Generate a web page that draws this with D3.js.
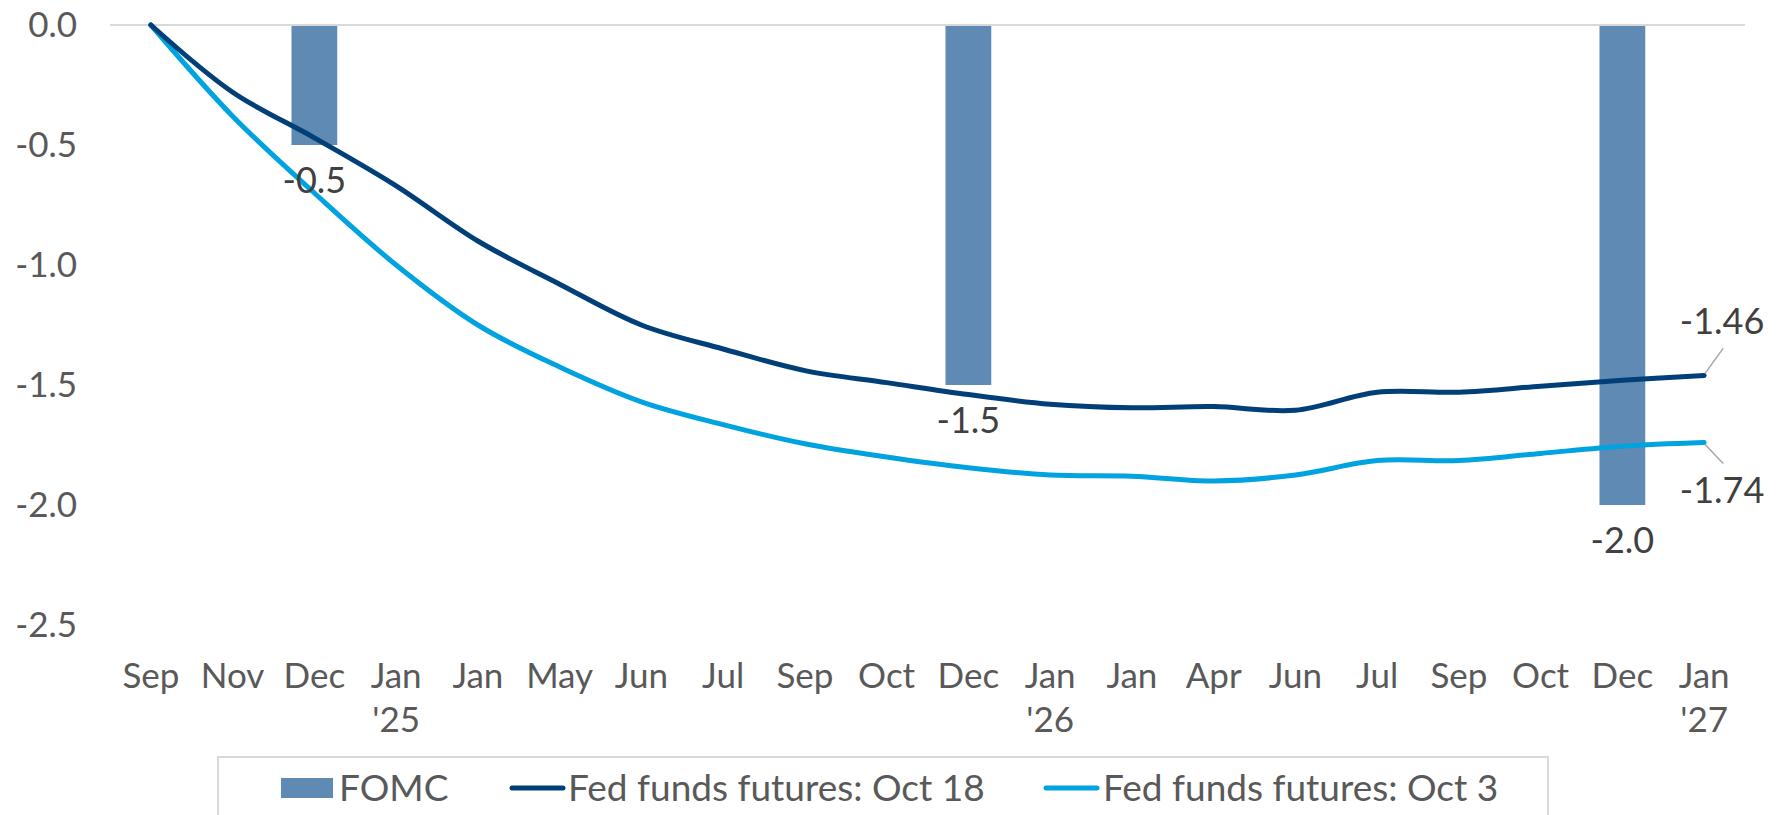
<!DOCTYPE html>
<html lang="en">
<head>
<meta charset="utf-8">
<title>FOMC cuts vs fed funds futures</title>
<script src="https://cdn.jsdelivr.net/npm/d3@7"></script>
<style>
  body { margin: 0; background: #fff; }
  svg text { font-family: Lato, "Open Sans", sans-serif; }
</style>
</head>
<body>
<script>
// categories (months), second line holds the year where shown
const months = ["Sep", "Nov", "Dec", "Jan", "Jan", "May", "Jun", "Jul", "Sep", "Oct",
                "Dec", "Jan", "Jan", "Apr", "Jun", "Jul", "Sep", "Oct", "Dec", "Jan"];
const years  = ["", "", "", "'25", "", "", "", "", "", "",
                "", "'26", "", "", "", "", "", "", "", "'27"];

// FOMC dots: only three meetings carry a bar
const fomc = [null, null, -0.5, null, null, null, null, null, null, null,
              -1.5, null, null, null, null, null, null, null, -2.0, null];

const futuresOct18 = [0, -0.28, -0.47, -0.67, -0.90, -1.08, -1.25, -1.35, -1.44, -1.49,
                      -1.54, -1.58, -1.595, -1.59, -1.605, -1.53, -1.53, -1.505, -1.48, -1.46];
const futuresOct3  = [0, -0.38, -0.70, -1.00, -1.25, -1.425, -1.57, -1.665, -1.745, -1.80,
                      -1.845, -1.875, -1.88, -1.90, -1.875, -1.815, -1.815, -1.785, -1.755, -1.74];

const yTicks = [0, -0.5, -1.0, -1.5, -2.0, -2.5];

const width = 1783, height = 815;
const mLeft = 110, mRight = 1745, mTop = 25, mBottom = 625;

// plain hyphen for negatives, like the original
const loc = d3.formatLocale({decimal: ".", thousands: ",", grouping: [3], currency: ["$", ""], minus: "-"});
const f1 = loc.format(".1f"), f2 = loc.format(".2f");

const svg = d3.select("body").append("svg")
    .attr("width", width)
    .attr("height", height);

const x = d3.scaleBand()
    .domain(d3.range(months.length))
    .range([mLeft, mRight])
    .paddingInner(0.44)
    .paddingOuter(0.22);

const y = d3.scaleLinear()
    .domain([-2.5, 0])
    .range([mBottom, mTop]);

const cx = i => x(i) + x.bandwidth() / 2;

// zero line
svg.append("line")
    .attr("x1", mLeft).attr("x2", mRight)
    .attr("y1", y(0)).attr("y2", y(0))
    .attr("stroke", "#d9d9d9")
    .attr("stroke-width", 2);

// y axis
const yAxis = svg.append("g")
    .attr("transform", "translate(" + mLeft + ",0)")
    .call(d3.axisLeft(y).tickValues(yTicks).tickSize(0).tickPadding(33).tickFormat(f1));
yAxis.select(".domain").remove();
yAxis.selectAll("text")
    .attr("fill", "#595959")
    .style("font-size", "35px");

// x axis
const xAxis = svg.append("g")
    .attr("transform", "translate(0," + mBottom + ")")
    .call(d3.axisBottom(x).tickSize(0).tickFormat(""));
xAxis.select(".domain").remove();
xAxis.selectAll(".tick").each(function(i) {
  const t = d3.select(this).append("text")
      .attr("fill", "#595959")
      .attr("text-anchor", "middle")
      .style("font-size", "35px");
  t.append("tspan").attr("x", 0).attr("y", 63).text(months[i]);
  if (years[i]) t.append("tspan").attr("x", 0).attr("y", 107).text(years[i]);
});

// FOMC bars
const barData = fomc.map((v, i) => ({i, v})).filter(d => d.v !== null);
svg.selectAll("rect.bar")
    .data(barData)
    .enter().append("rect")
    .attr("class", "bar")
    .attr("x", d => x(d.i))
    .attr("y", y(0) + 1)
    .attr("width", x.bandwidth())
    .attr("height", d => y(d.v) - y(0) - 1)
    .attr("fill", "#5f8ab3");

// lines
const line = d3.line()
    .x((d, i) => cx(i))
    .y(d => y(d))
    .curve(d3.curveCatmullRom.alpha(0.5));

svg.append("path")
    .datum(futuresOct3)
    .attr("d", line)
    .attr("fill", "none")
    .attr("stroke", "#00a3e0")
    .attr("stroke-width", 5)
    .attr("stroke-linecap", "round");

svg.append("path")
    .datum(futuresOct18)
    .attr("d", line)
    .attr("fill", "none")
    .attr("stroke", "#003f78")
    .attr("stroke-width", 5)
    .attr("stroke-linecap", "round");

// bar labels
svg.selectAll("text.barlab")
    .data(barData)
    .enter().append("text")
    .attr("class", "barlab")
    .attr("x", d => cx(d.i))
    .attr("y", d => y(d.v) + 48)
    .attr("text-anchor", "middle")
    .attr("fill", "#404040")
    .style("font-size", "36px")
    .text(d => f1(d.v));

// end labels with leader lines
const last = months.length - 1;
const ends = [
  {v: futuresOct18[last], dx: 19, dy: -27, ly: -53},
  {v: futuresOct3[last], dx: 19, dy: 21, ly: 48}
];
ends.forEach(e => {
  const px = cx(last), py = y(e.v);
  svg.append("line")
      .attr("x1", px + 1).attr("y1", py + (e.dy < 0 ? -2 : 2))
      .attr("x2", px + e.dx).attr("y2", py + e.dy)
      .attr("stroke", "#a6a6a6")
      .attr("stroke-width", 1.5);
  svg.append("text")
      .attr("x", px + 18)
      .attr("y", py + e.ly + 12)
      .attr("text-anchor", "middle")
      .attr("fill", "#404040")
      .style("font-size", "36px")
      .text(f2(e.v));
});

// legend
const legend = svg.append("g");
legend.append("rect")
    .attr("x", 218).attr("y", 757)
    .attr("width", 1330).attr("height", 80)
    .attr("fill", "none")
    .attr("stroke", "#d9d9d9")
    .attr("stroke-width", 2);

legend.append("rect")
    .attr("x", 281).attr("y", 778)
    .attr("width", 52).attr("height", 20)
    .attr("fill", "#5f8ab3");
legend.append("text")
    .attr("x", 339).attr("y", 801)
    .attr("fill", "#595959").style("font-size", "37px")
    .text("FOMC");

legend.append("line")
    .attr("x1", 512).attr("x2", 563)
    .attr("y1", 788).attr("y2", 788)
    .attr("stroke", "#003f78").attr("stroke-width", 5)
    .attr("stroke-linecap", "round");
legend.append("text")
    .attr("x", 568).attr("y", 801)
    .attr("fill", "#595959").style("font-size", "37px")
    .text("Fed funds futures: Oct 18");

legend.append("line")
    .attr("x1", 1046).attr("x2", 1097)
    .attr("y1", 788).attr("y2", 788)
    .attr("stroke", "#00a3e0").attr("stroke-width", 5)
    .attr("stroke-linecap", "round");
legend.append("text")
    .attr("x", 1103).attr("y", 801)
    .attr("fill", "#595959").style("font-size", "37px")
    .text("Fed funds futures: Oct 3");
</script>
</body>
</html>
